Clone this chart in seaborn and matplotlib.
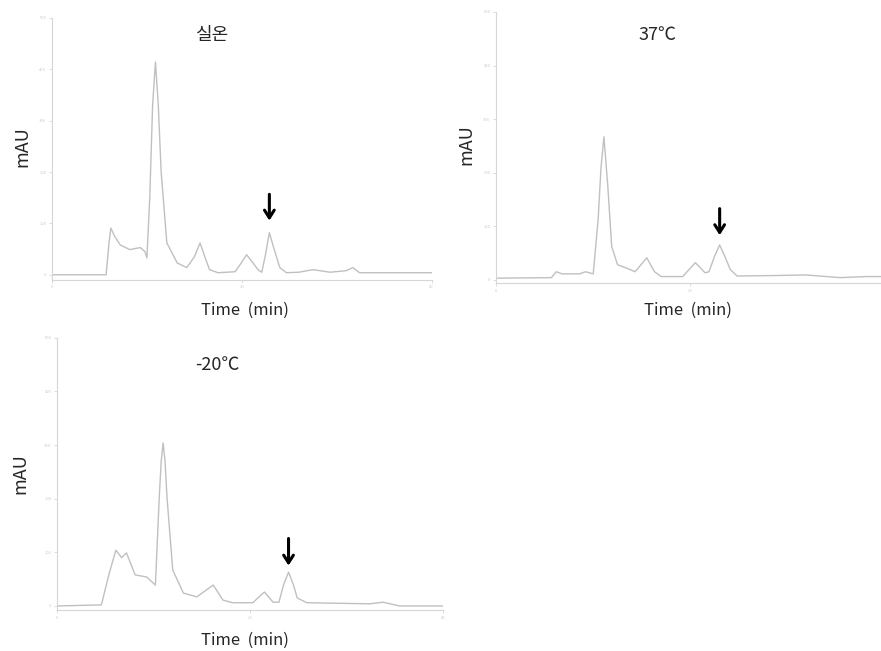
import matplotlib
matplotlib.use("Agg")
import matplotlib.pyplot as plt
import seaborn as sns

# chromatogram traces (time in min, signal in mAU)
time_rt = [0, 5.7, 6.0, 6.2, 6.6, 7.2, 8.2, 9.3, 9.8, 10.0, 10.3, 10.6, 10.9,
           11.2, 11.5, 12.1, 13.2, 14.2, 15.0, 15.6, 16.1, 16.6, 17.5, 19.3,
           19.9, 20.5, 21.1, 21.7, 22.1, 22.5, 22.9, 23.4, 24.0, 24.7, 26.0,
           27.5, 29.3, 31.0, 31.7, 32.4, 40]
mau_rt = [0, 0, 60, 91, 75, 58, 49, 53, 45, 33, 150, 330, 414,
          330, 200, 62, 23, 14, 35, 62, 35, 10, 4, 6,
          22, 39, 25, 10, 5, 40, 82, 50, 14, 4, 5,
          10, 5, 8, 14, 4, 4]

time_37 = [0, 5.7, 6.2, 6.8, 8.6, 9.2, 10.0, 10.5, 10.8, 11.1, 11.5, 11.9,
           12.5, 13.4, 14.3, 15.0, 15.5, 16.3, 17.0, 19.2, 19.9, 20.5, 21.5,
           21.9, 22.5, 23.0, 23.5, 24.1, 24.8, 28.8, 31.9, 35.4, 38.1, 40]
mau_37 = [3, 4, 15, 11, 11, 15, 11, 112, 210, 267, 174, 62,
          28, 22, 15, 30, 41, 15, 6, 6, 20, 32, 13,
          15, 45, 65, 45, 19, 7, 8, 9, 4, 6, 6]

time_m20 = [0, 4.6, 5.4, 6.1, 6.7, 7.2, 8.1, 9.3, 10.2, 10.6, 10.8, 11.0,
            11.2, 11.4, 12.0, 13.1, 14.5, 15.5, 16.2, 17.2, 18.2, 20.3, 21.0,
            21.5, 22.4, 23.0, 23.5, 24.0, 24.5, 24.9, 25.9, 32.4, 33.8, 35.5, 40]
mau_m20 = [0, 2, 60, 104, 90, 99, 58, 54, 39, 203, 270, 304,
           270, 203, 67, 24, 17, 30, 39, 11, 6, 6, 18,
           26, 7, 7, 40, 63, 40, 15, 6, 4, 7, 0, 0]

panel_titles = ["실온", "37℃", "-20℃"]
marked_peak = [22.9, 23.0, 24.0]
arrow_top = [162, 138, 131]
arrow_tip = [100, 78, 70]
x_ticks = [0, 20, 40]
y_ticks = [0, 100, 200, 300, 400, 500]

sns.set_style("white")
plt.rcParams["font.family"] = ["Noto Sans CJK KR", "DejaVu Sans"]

trace_col = "#c0c0c0"
axis_col = "#d6d6d6"

fig = plt.figure(figsize=(8.81, 6.51), dpi=100)

# axes boxes and label spots (figure / axes fractions)
boxes = [[0.059, 0.570, 0.431, 0.4025],
         [0.563, 0.5653, 0.4415, 0.4163],
         [0.0647, 0.063, 0.438, 0.418]]
ylims = [(-10, 500), (-6, 500), (-7.5, 500)]
title_xy = [(0.42, 0.935), (0.414, 0.915), (0.415, 0.90)]
xlab_xy = [(0.508, -0.115), (0.494, -0.10), (0.487, -0.11)]
ylab_xy = [(-0.079, 0.51), (-0.075, 0.51), (-0.096, 0.50)]

series = [(time_rt, mau_rt), (time_37, mau_37), (time_m20, mau_m20)]

for i, (t, y) in enumerate(series):
    ax = fig.add_axes(boxes[i])
    sns.lineplot(x=t, y=y, ax=ax, color=trace_col, linewidth=1.0)
    ax.set_xlim(0, 40)
    ax.set_ylim(*ylims[i])

    for side in ["top", "right"]:
        ax.spines[side].set_visible(False)
    for side in ["left", "bottom"]:
        ax.spines[side].set_color(axis_col)
        ax.spines[side].set_linewidth(0.8)

    ax.set_xticks(x_ticks)
    # right panel runs off the page edge, so its last tick has no label
    if i == 1:
        ax.set_xticklabels([str(v) for v in x_ticks[:-1]] + [""])
    ax.set_yticks(y_ticks)
    ax.tick_params(axis="both", which="both", direction="out", length=2,
                   width=0.6, color=axis_col, labelsize=3,
                   labelcolor="#cccccc", pad=2, left=True, bottom=True)

    ax.text(title_xy[i][0], title_xy[i][1], panel_titles[i],
            transform=ax.transAxes, ha="center", va="center", fontsize=13)

    ax.set_xlabel("Time  (min)", fontsize=12)
    ax.xaxis.label.set_va("center")
    ax.xaxis.set_label_coords(*xlab_xy[i])
    ax.set_ylabel("mAU", fontsize=13)
    ax.yaxis.label.set_va("center")
    ax.yaxis.set_label_coords(*ylab_xy[i])

    ax.annotate("", xy=(marked_peak[i], arrow_tip[i]),
                xytext=(marked_peak[i], arrow_top[i]),
                arrowprops=dict(arrowstyle="->,head_length=0.55,head_width=0.35",
                                color="black", lw=2.2))

fig.savefig("out.png", dpi=100)
